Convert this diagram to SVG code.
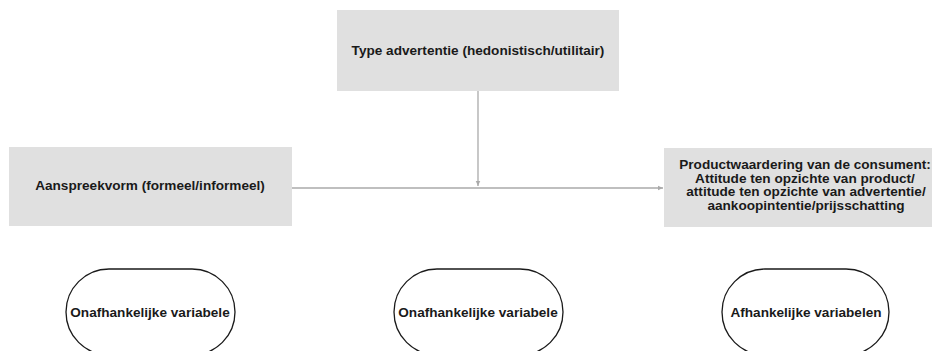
<svg xmlns="http://www.w3.org/2000/svg" width="935" height="351" viewBox="0 0 935 351">
<defs>
<style>
.box{fill:#e0e0e0;}
.lbl{font-family:"Liberation Sans",Arial,sans-serif;font-weight:bold;font-size:13.6px;fill:#1a1a1a;text-anchor:middle;}
.oval{fill:#ffffff;stroke:#1a1a1a;stroke-width:1.3;}
.conn{stroke:#aaaaaa;stroke-width:1.3;fill:none;}
</style>
<marker id="arr" viewBox="0 0 10 10" refX="9" refY="5" markerWidth="6" markerHeight="6" orient="auto" markerUnits="userSpaceOnUse">
<path d="M0,1 L9,5 L0,9 Z" fill="#aaaaaa"/>
</marker>
</defs>
<rect width="935" height="351" fill="#ffffff"/>
<g id="connectors">
<line class="conn" x1="292" y1="188" x2="663" y2="188" marker-end="url(#arr)"/>
<line class="conn" x1="478" y1="91" x2="478" y2="186" marker-end="url(#arr)"/>
</g>
<g id="type">
<rect class="box" x="337" y="10" width="282" height="81"/>
<text class="lbl" x="478" y="55">Type advertentie (hedonistisch/utilitair)</text>
</g>
<g id="aanspreek">
<rect class="box" x="9" y="147" width="283" height="79"/>
<text class="lbl" x="150" y="190">Aanspreekvorm (formeel/informeel)</text>
</g>
<g id="product">
<rect class="box" x="664" y="148" width="268" height="79"/>
<text class="lbl" x="805" y="169">Productwaardering van de consument:</text>
<text class="lbl" x="805" y="182.5">Attitude ten opzichte van product/</text>
<text class="lbl" x="806" y="196">attitude ten opzichte van advertentie/</text>
<text class="lbl" x="806" y="209.5">aankoopintentie/prijsschatting</text>
</g>
<g id="oval1">
<rect class="oval" x="66" y="269" width="169" height="86" rx="43" ry="43"/>
<text class="lbl" x="150" y="317">Onafhankelijke variabele</text>
</g>
<g id="oval2">
<rect class="oval" x="394" y="269" width="169" height="86" rx="43" ry="43"/>
<text class="lbl" x="478" y="317">Onafhankelijke variabele</text>
</g>
<g id="oval3">
<rect class="oval" x="722" y="269" width="167" height="86" rx="43" ry="43"/>
<text class="lbl" x="806" y="317">Afhankelijke variabelen</text>
</g>
</svg>
